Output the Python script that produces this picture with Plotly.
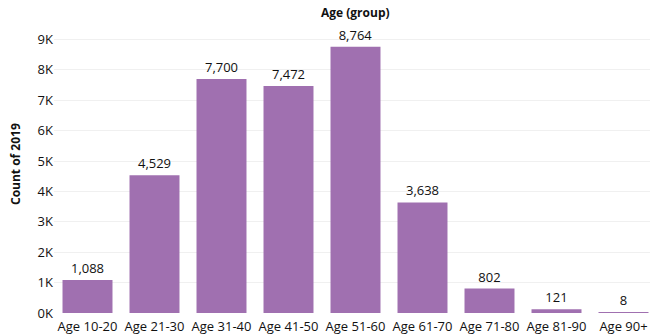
import plotly.graph_objects as go

categories = ["Age 10-20", "Age 21-30", "Age 31-40", "Age 41-50", "Age 51-60",
              "Age 61-70", "Age 71-80", "Age 81-90", "Age 90+"]
counts = [1088, 4529, 7700, 7472, 8764, 3638, 802, 121, 8]
tick_vals = [0, 1000, 2000, 3000, 4000, 5000, 6000, 7000, 8000, 9000]
tick_text = ["0K", "1K", "2K", "3K", "4K", "5K", "6K", "7K", "8K", "9K"]
labels = [f"{v:,}" for v in counts]

W, H = 650, 336
ML, MR, MT, MB = 54, 0, 20, 23
pw = W - ML - MR
ph = H - MT - MB

fig = go.Figure(go.Bar(
    x=list(range(len(categories))), y=counts, text=labels,
    textposition="outside", cliponaxis=False,
    textfont=dict(family="Open Sans", size=13, color="#111"),
    marker=dict(color="#A070B0", line=dict(width=0)),
    width=0.746,
))

fig.update_layout(
    width=W, height=H, margin=dict(l=ML, r=MR, t=MT, b=MB),
    paper_bgcolor="white", plot_bgcolor="white", showlegend=False,
    font=dict(family="Open Sans", size=13, color="#111"),
    xaxis=dict(range=[-0.5, -0.5 + pw / 67.0], tickvals=list(range(len(categories))),
               ticktext=categories, showgrid=False, zeroline=False, showline=False,
               ticks="", ticklabelstandoff=4, tickfont=dict(size=13, color="#111")),
    yaxis=dict(range=[0, 9640], tickvals=tick_vals, ticktext=tick_text,
               showgrid=True, gridcolor="#f0f0f0", gridwidth=1, zeroline=False,
               showline=False, ticks="", tickfont=dict(size=13, color="#111")),
    annotations=[
        dict(text="<b>Age (group)</b>", xref="paper", yref="paper",
             x=(355 - ML) / pw, y=(H - MB - 12) / ph, xanchor="center", yanchor="middle",
             showarrow=False, font=dict(size=12, color="#111")),
        dict(text="<b>Count of 2019</b>", xref="paper", yref="paper",
             x=(15 - ML) / pw, y=(H - MB - 164) / ph, xanchor="center", yanchor="middle",
             textangle=-90, showarrow=False, font=dict(size=12, color="#111")),
    ],
)

fig.write_html("out.html")
